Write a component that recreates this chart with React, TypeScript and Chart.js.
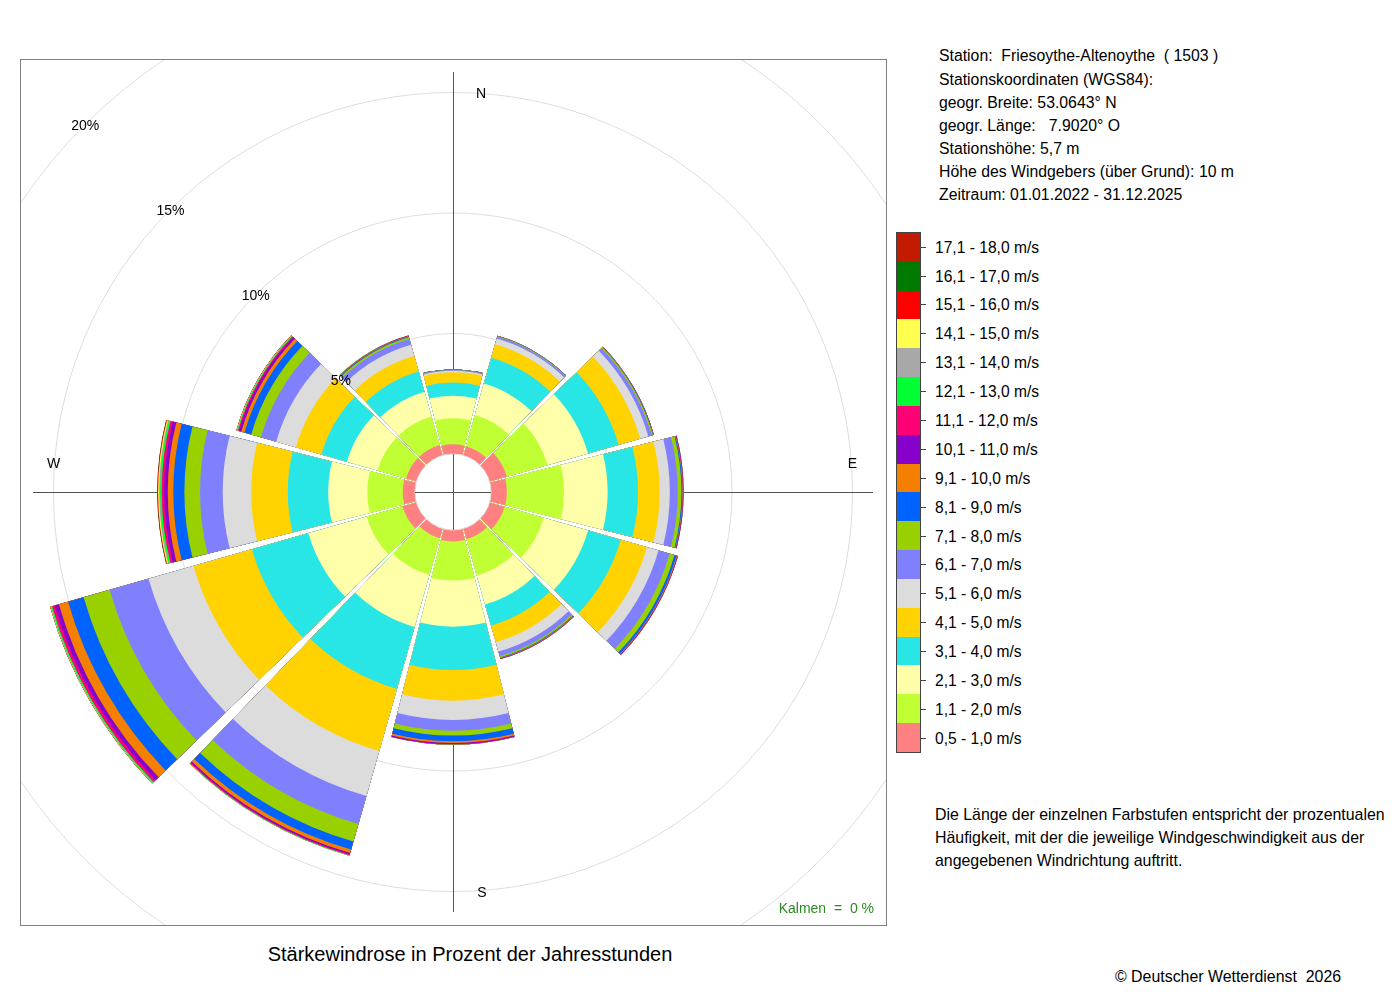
import React, { useEffect, useRef } from 'react';
import { Chart, registerables } from 'chart.js';
import type { Plugin } from 'chart.js';

Chart.register(...registerables);

// Windrichtungssektoren, im Uhrzeigersinn ab Nord
const DIRECTIONS = ['N', 'NNE', 'ENE', 'E', 'ESE', 'SSE', 'S', 'SSW', 'WSW', 'W', 'WNW', 'NNW'];

const SPEED_CLASSES = [
  '0,5 - 1,0 m/s', '1,1 - 2,0 m/s', '2,1 - 3,0 m/s', '3,1 - 4,0 m/s', '4,1 - 5,0 m/s',
  '5,1 - 6,0 m/s', '6,1 - 7,0 m/s', '7,1 - 8,0 m/s', '8,1 - 9,0 m/s', '9,1 - 10,0 m/s',
  '10,1 - 11,0 m/s', '11,1 - 12,0 m/s', '12,1 - 13,0 m/s', '13,1 - 14,0 m/s', '14,1 - 15,0 m/s',
  '15,1 - 16,0 m/s', '16,1 - 17,0 m/s', '17,1 - 18,0 m/s',
];

const CLASS_COLORS = [
  '#ff8080', '#c0ff33', '#ffffaa', '#29e6e6', '#ffd200',
  '#dcdcdc', '#8080ff', '#99d100', '#0062ff', '#f58000',
  '#8800cc', '#ff0077', '#00ff33', '#a8a8a8', '#ffff50',
  '#ff0000', '#007a00', '#c31b00',
];

// Prozent der Jahresstunden je Sektor (N ... NNW) und Geschwindigkeitsklasse
const v05_10 = [0.40, 0.40, 0.75, 0.66, 0.65, 0.46, 0.48, 0.42, 0.60, 0.51, 0.45, 0.45];
const v11_20 = [1.08, 1.35, 1.75, 2.37, 1.69, 1.57, 1.62, 1.58, 1.55, 1.47, 1.23, 1.23];
const v21_30 = [0.94, 1.35, 1.75, 1.81, 1.91, 1.25, 1.91, 2.25, 2.51, 1.62, 1.32, 1.07];
const v31_40 = [0.55, 1.12, 1.32, 1.26, 1.41, 0.91, 1.80, 2.67, 2.44, 1.68, 1.10, 0.87];
const v41_50 = [0.42, 0.58, 0.93, 0.90, 1.13, 0.71, 1.27, 2.68, 2.52, 1.52, 1.10, 0.67];
const v51_60 = [0.06, 0.25, 0.35, 0.42, 0.50, 0.41, 0.80, 1.94, 1.94, 1.18, 0.85, 0.49];
const v61_70 = [0.04, 0.07, 0.15, 0.33, 0.48, 0.19, 0.45, 1.21, 1.68, 0.94, 0.66, 0.24];
const v71_80 = [0.01, 0.02, 0.05, 0.15, 0.21, 0.06, 0.20, 0.75, 1.12, 0.65, 0.42, 0.08];
const v81_90 = [0.01, 0.01, 0.02, 0.04, 0.09, 0.03, 0.24, 0.35, 0.67, 0.46, 0.29, 0.03];
const v91_100 = [0.00, 0.01, 0.01, 0.02, 0.03, 0.02, 0.07, 0.15, 0.40, 0.23, 0.14, 0.02];
const v101_110 = [0.00, 0.00, 0.01, 0.02, 0.02, 0.01, 0.04, 0.05, 0.18, 0.15, 0.09, 0.01];
const v111_120 = [0.00, 0.00, 0.00, 0.01, 0.01, 0.01, 0.02, 0.04, 0.11, 0.10, 0.05, 0.01];
const v121_130 = [0.00, 0.00, 0.00, 0.00, 0.00, 0.00, 0.01, 0.02, 0.05, 0.07, 0.03, 0.01];
const v131_140 = [0.00, 0.00, 0.00, 0.00, 0.00, 0.00, 0.00, 0.01, 0.02, 0.04, 0.02, 0.00];
const v141_150 = [0.00, 0.00, 0.00, 0.00, 0.00, 0.00, 0.00, 0.00, 0.01, 0.04, 0.01, 0.00];
const v151_160 = [0.00, 0.00, 0.00, 0.00, 0.00, 0.00, 0.00, 0.00, 0.01, 0.02, 0.01, 0.00];
const v161_170 = [0.00, 0.00, 0.00, 0.00, 0.00, 0.00, 0.00, 0.00, 0.00, 0.01, 0.00, 0.00];
const v171_180 = [0.00, 0.00, 0.00, 0.00, 0.00, 0.00, 0.00, 0.00, 0.00, 0.01, 0.00, 0.00];

const SERIES = [
  v05_10, v11_20, v21_30, v31_40, v41_50, v51_60, v61_70, v71_80, v81_90,
  v91_100, v101_110, v111_120, v121_130, v131_140, v141_150, v151_160, v161_170, v171_180,
];

const PCT_TICKS = [0, 5, 10, 15, 20];

const INFO_LINES = [
  'Station:  Friesoythe-Altenoythe  ( 1503 )',
  'Stationskoordinaten (WGS84):',
  'geogr. Breite: 53.0643° N',
  'geogr. Länge:   7.9020° O',
  'Stationshöhe: 5,7 m',
  'Höhe des Windgebers (über Grund): 10 m',
  'Zeitraum: 01.01.2022 - 31.12.2025',
];

const NOTE_LINES = [
  'Die Länge der einzelnen Farbstufen entspricht der prozentualen',
  'Häufigkeit, mit der die jeweilige Windgeschwindigkeit aus der',
  'angegebenen Windrichtung auftritt.',
];

// Skala: der Kalmenkreis in der Mitte liegt unterhalb von 0 %
const R_MIN = -1.577;
const R_MAX = 20;
const SECTOR_DEG = 28.2;
const GAP_DEG = 1.8;
const CROSS_PCT = 15.85;
const COMPASS_PCT = 15;

const CANVAS = 1040;
const FONT = '"Liberation Sans", Arial, Helvetica, sans-serif';

const rosePlugin: Plugin<'polarArea'> = {
  id: 'rosePlugin',
  beforeDatasetsDraw: (chart) => {
    const { ctx } = chart;
    const r = (chart.scales as any).r;
    const cx = r.xCenter;
    const cy = r.yCenter;
    const len = r.getDistanceFromCenterForValue(CROSS_PCT);
    ctx.save();
    ctx.strokeStyle = '#555';
    ctx.lineWidth = 1;
    ctx.beginPath();
    ctx.moveTo(cx + 0.5, cy - len);
    ctx.lineTo(cx + 0.5, cy + len);
    ctx.moveTo(cx - len, cy + 0.5);
    ctx.lineTo(cx + len, cy + 0.5);
    ctx.stroke();
    ctx.restore();
  },
  afterDatasetsDraw: (chart) => {
    const { ctx } = chart;
    const r = (chart.scales as any).r;
    const cx = r.xCenter;
    const cy = r.yCenter;
    const r0 = r.getDistanceFromCenterForValue(0);

    ctx.save();
    // Kalmenkreis
    ctx.beginPath();
    ctx.arc(cx, cy, r0, 0, Math.PI * 2);
    ctx.fillStyle = '#fff';
    ctx.fill();
    ctx.strokeStyle = '#e2e2e2';
    ctx.lineWidth = 1;
    ctx.stroke();

    ctx.strokeStyle = '#555';
    ctx.beginPath();
    ctx.moveTo(cx + 0.5, cy - r0);
    ctx.lineTo(cx + 0.5, cy + r0);
    ctx.moveTo(cx - r0, cy + 0.5);
    ctx.lineTo(cx + r0, cy + 0.5);
    ctx.stroke();

    ctx.fillStyle = '#000';
    ctx.font = `14px ${FONT}`;
    ctx.textAlign = 'center';
    ctx.textBaseline = 'middle';
    PCT_TICKS.filter(v => v > 0).forEach(v => {
      const d = r.getDistanceFromCenterForValue(v) * Math.SQRT1_2;
      ctx.fillText(`${v}%`, cx - d, cy - d + 1.5);
    });

    const dl = r.getDistanceFromCenterForValue(COMPASS_PCT);
    ctx.fillText('N', cx + 28, cy - dl + 1.5);
    ctx.fillText('E', cx + dl, cy - 27.5);
    ctx.fillText('S', cx + 29, cy + dl + 1.5);
    ctx.fillText('W', cx - dl, cy - 27.5);
    ctx.restore();
  },
};

const WindRose: React.FC = () => {
  const canvasRef = useRef<HTMLCanvasElement>(null);
  const chartRef = useRef<Chart | null>(null);

  useEffect(() => {
    if (!canvasRef.current) return;
    if (chartRef.current) chartRef.current.destroy();

    // gestapelt: jede Klasse reicht bis zur Summe aller Klassen darunter
    const stacked = SERIES.map((_, k) =>
      DIRECTIONS.map((_, d) => SERIES.slice(0, k + 1).reduce((s, arr) => s + arr[d], 0))
    );

    const datasets = stacked.map((vals, k) => ({
      label: SPEED_CLASSES[k],
      data: vals.flatMap(v => [v, R_MIN]),
      backgroundColor: (c: any) => (c.dataIndex % 2 === 0 ? CLASS_COLORS[k] : 'rgba(0,0,0,0)'),
      borderWidth: 0,
      angle: (c: any) => (c.dataIndex % 2 === 0 ? SECTOR_DEG : GAP_DEG),
    }));

    chartRef.current = new Chart(canvasRef.current, {
      type: 'polarArea',
      data: {
        labels: DIRECTIONS.flatMap(d => [d, '']),
        datasets: datasets as any,
      },
      options: {
        responsive: false,
        animation: false,
        events: [],
        layout: { padding: 0 },
        scales: {
          r: {
            min: R_MIN,
            max: R_MAX,
            startAngle: -SECTOR_DEG / 2,
            afterBuildTicks: (scale: any) => {
              scale.ticks = PCT_TICKS.map(v => ({ value: v }));
            },
            grid: {
              circular: true,
              color: (c: any) => (c.tick && c.tick.value > 0 ? '#dddddd' : 'rgba(0,0,0,0)'),
              lineWidth: 1,
            },
            angleLines: { display: false },
            pointLabels: { display: false },
            ticks: { display: false },
          },
        },
        plugins: {
          legend: { display: false },
          tooltip: { enabled: false },
        },
      },
      plugins: [rosePlugin],
    });

    return () => {
      if (chartRef.current) {
        chartRef.current.destroy();
        chartRef.current = null;
      }
    };
  }, []);

  return (
    <canvas
      ref={canvasRef}
      width={CANVAS}
      height={CANVAS}
      style={{ position: 'absolute', left: -87, top: -87, width: CANVAS, height: CANVAS }}
    />
  );
};

const ROW_H = 28.88;

const App: React.FC = () => {
  const legendOrder = SPEED_CLASSES.map((_, i) => SPEED_CLASSES.length - 1 - i);
  return (
    <div style={{ position: 'absolute', left: 0, top: 0, width: 1400, height: 1000, background: '#fff', fontFamily: FONT, color: '#000' }}>
      {/* Diagrammrahmen */}
      <div style={{ position: 'absolute', left: 20, top: 59, width: 866, height: 866, overflow: 'hidden' }}>
        <WindRose />
      </div>
      <div style={{ position: 'absolute', left: 20, top: 59, width: 867, height: 867, boxSizing: 'border-box', border: '1px solid #808080', pointerEvents: 'none' }} />
      <div style={{ position: 'absolute', left: 700, top: 898, width: 174, textAlign: 'right', fontSize: 14, lineHeight: '20px', color: '#2a8a22', whiteSpace: 'pre' }}>
        {'Kalmen  =  0 %'}
      </div>

      <div style={{ position: 'absolute', left: 70, top: 939, width: 800, textAlign: 'center', fontSize: 20, lineHeight: '30px' }}>
        Stärkewindrose in Prozent der Jahresstunden
      </div>

      <div style={{ position: 'absolute', left: 939, top: 44.4, fontSize: 15.8, lineHeight: '23.17px', whiteSpace: 'pre' }}>
        {INFO_LINES.map(l => <div key={l}>{l}</div>)}
      </div>

      {/* Farblegende */}
      <div style={{ position: 'absolute', left: 896, top: 232, width: 25, height: 521, boxSizing: 'border-box', border: '1px solid #444', display: 'flex', flexDirection: 'column' }}>
        {legendOrder.map(k => (
          <div key={k} style={{ flex: 1, background: CLASS_COLORS[k] }} />
        ))}
      </div>
      {legendOrder.map((k, i) => {
        const cy = 247.2 + i * ROW_H;
        return (
          <React.Fragment key={k}>
            <div style={{ position: 'absolute', left: 921, top: cy - 0.5, width: 5, height: 1, background: '#444' }} />
            <div style={{ position: 'absolute', left: 935, top: cy - 9.5, fontSize: 15.6, lineHeight: '20px', whiteSpace: 'nowrap' }}>
              {SPEED_CLASSES[k]}
            </div>
          </React.Fragment>
        );
      })}

      <div style={{ position: 'absolute', left: 935, top: 803, fontSize: 15.9, lineHeight: '23px', whiteSpace: 'nowrap' }}>
        {NOTE_LINES.map(l => <div key={l}>{l}</div>)}
      </div>

      <div style={{ position: 'absolute', left: 1115, top: 965.5, fontSize: 15.9, lineHeight: '22px', whiteSpace: 'pre' }}>
        {'© Deutscher Wetterdienst  2026'}
      </div>
    </div>
  );
};

export default App;
